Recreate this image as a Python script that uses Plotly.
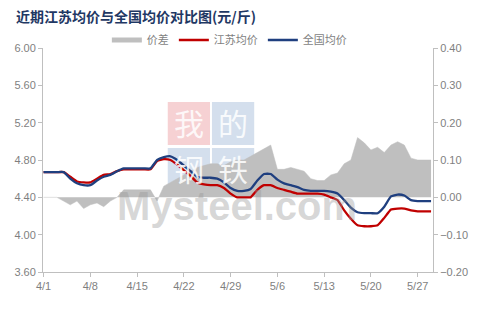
import pandas as pd
import plotly.graph_objects as go

dates = pd.date_range("2024-04-01", "2024-05-29", freq="D")

national = [4.67, 4.67, 4.67, 4.67, 4.60, 4.55, 4.53, 4.53, 4.58, 4.62,
            4.64, 4.68, 4.71, 4.71, 4.71, 4.71, 4.71, 4.80, 4.83, 4.84,
            4.80, 4.74, 4.68, 4.62, 4.61, 4.61, 4.60, 4.56, 4.50, 4.47,
            4.47, 4.49, 4.58, 4.65, 4.65, 4.59, 4.55, 4.53, 4.51, 4.48,
            4.47, 4.47, 4.47, 4.46, 4.44, 4.37, 4.29, 4.24, 4.23, 4.23,
            4.23, 4.30, 4.41, 4.43, 4.42, 4.37, 4.36, 4.36, 4.36]

jiangsu = [4.67, 4.67, 4.67, 4.67, 4.62, 4.57, 4.56, 4.56, 4.60, 4.64,
           4.65, 4.68, 4.70, 4.70, 4.70, 4.70, 4.70, 4.79, 4.81, 4.80,
           4.75, 4.69, 4.63, 4.56, 4.54, 4.53, 4.53, 4.50, 4.44, 4.40,
           4.40, 4.40, 4.48, 4.53, 4.53, 4.50, 4.48, 4.46, 4.44, 4.44,
           4.44, 4.44, 4.43, 4.40, 4.37, 4.26, 4.17, 4.10, 4.09, 4.09,
           4.10, 4.18, 4.27, 4.28, 4.28, 4.26, 4.25, 4.25, 4.25]

spread = [0.0, 0.0, 0.0, -0.01, -0.02, -0.01, -0.03, -0.02, -0.015, -0.025,
          -0.01, 0.0, 0.02, 0.02, 0.02, 0.02, 0.02, -0.01, 0.03, 0.04,
          0.05, 0.06, 0.07, 0.08, 0.085, 0.09, 0.09, 0.085, 0.095, 0.10,
          0.10, 0.11, 0.12, 0.13, 0.14, 0.075, 0.075, 0.08, 0.075, 0.07,
          0.05, 0.045, 0.045, 0.06, 0.065, 0.09, 0.10, 0.16, 0.146, 0.127,
          0.134, 0.12, 0.14, 0.149, 0.14, 0.105, 0.10, 0.10, 0.10]

tick_vals = pd.date_range("2024-04-01", "2024-05-27", freq="7D")
tick_text = [f"{d.month}/{d.day}" for d in tick_vals]

GRAY = "#BFBFBF"
RED = "#C00000"
BLUE = "#1F3F7F"
TXT = "#7F7F7F"
FONT = "Liberation Sans, Arial, sans-serif"

fig = go.Figure()

# spread area on the right-side axis (yaxis), drawn below the lines
fig.add_trace(go.Scatter(x=dates, y=spread, mode="lines", fill="tozeroy",
                         fillcolor=GRAY, line=dict(color=GRAY, width=0.5),
                         yaxis="y", showlegend=False, hoverinfo="skip"))
# legend proxy for spread
fig.add_trace(go.Scatter(x=[None], y=[None], mode="lines", name="价差",
                         line=dict(color=GRAY, width=5), yaxis="y"))
fig.add_trace(go.Scatter(x=dates, y=jiangsu, mode="lines", name="江苏均价",
                         line=dict(color=RED, width=2.3, shape="spline", smoothing=0.4),
                         yaxis="y2"))
fig.add_trace(go.Scatter(x=dates, y=national, mode="lines", name="全国均价",
                         line=dict(color=BLUE, width=2.3, shape="spline", smoothing=0.4),
                         yaxis="y2"))

# watermark
L, R, T, B = 43, 440, 48, 272
def px(xp):
    return (xp - L) / (R - L)
def py(yp):
    return (B - yp) / (B - T)

boxes = [((170, 102, 213, 145), "#F4C9CB", "我"),
         ((215, 102, 258, 145), "#CCD9EA", "的"),
         ((170, 148, 213, 192), "#CCD9EA", "钢"),
         ((215, 148, 258, 192), "#CCD9EA", "铁")]
shapes = []
annotations = []
for (x0, y0, x1, y1), col, ch in boxes:
    shapes.append(dict(type="rect", xref="paper", yref="paper",
                       x0=px(x0), x1=px(x1), y0=py(y1), y1=py(y0),
                       fillcolor=col, line=dict(width=0), layer="below", opacity=0.85))
    annotations.append(dict(text=ch, xref="paper", yref="paper",
                            x=px((x0 + x1) / 2), y=py((y0 + y1) / 2 - 2),
                            xanchor="center", yanchor="middle", showarrow=False,
                            font=dict(family="Noto Sans CJK SC", size=30, color="rgba(255,255,255,0.85)")))
annotations.append(dict(text="<b>Mysteel.com</b>", xref="paper", yref="paper",
                        x=px(240), y=py(206), xanchor="center", yanchor="middle",
                        showarrow=False,
                        font=dict(family=FONT, size=40, color="rgba(150,150,150,0.38)")))

fig.update_layout(
    width=480, height=333,
    margin=dict(l=L, r=480 - R, t=T, b=333 - B),
    paper_bgcolor="white", plot_bgcolor="white",
    title=dict(text="<b>近期江苏均价与全国均价对比图(元/斤)</b>",
               x=16 / 480, xanchor="left", y=1 - 17 / 333, yanchor="middle",
               font=dict(family="Noto Sans CJK SC", size=14, color="#1F3864")),
    legend=dict(orientation="h", x=px(108), xanchor="left", y=py(40), yanchor="middle",
                font=dict(family="Noto Sans CJK SC", size=11, color=TXT),
                bgcolor="rgba(0,0,0,0)", itemwidth=30, tracegroupgap=0),
    xaxis=dict(type="date", range=["2024-03-31 22:00", "2024-05-29 07:00"],
               tickvals=tick_vals, ticktext=tick_text,
               showgrid=False, zeroline=False, showline=True, linecolor=GRAY, linewidth=1,
               ticks="outside", ticklen=4, tickcolor=GRAY,
               tickfont=dict(family=FONT, size=11, color=TXT)),
    yaxis=dict(side="right", range=[-0.2, 0.4], dtick=0.1, tickformat=".2f",
               showgrid=False, zeroline=False, showline=True, linecolor=GRAY, linewidth=1,
               ticks="outside", ticklen=4, tickcolor=GRAY,
               tickfont=dict(family=FONT, size=11, color=TXT)),
    yaxis2=dict(overlaying="y", side="left", range=[3.6, 6.0], dtick=0.4, tickformat=".2f",
                showgrid=False, zeroline=False, showline=True, linecolor=GRAY, linewidth=1,
                ticks="outside", ticklen=4, tickcolor=GRAY,
                tickfont=dict(family=FONT, size=11, color=TXT)),
    shapes=shapes, annotations=annotations,
)

fig.write_html("out.html")
